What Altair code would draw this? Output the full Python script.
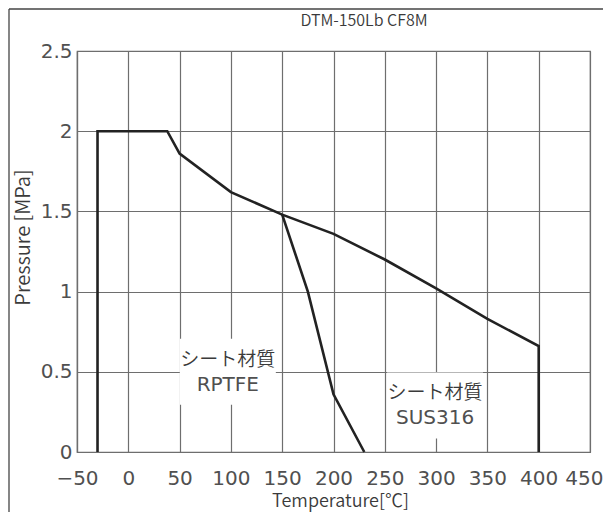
import altair as alt
import pandas as pd

# ---- data ----
sus_temp = [-30, -30, 38, 50, 100, 150, 200, 250, 300, 350, 400, 400]
sus_press = [0, 2.0, 2.0, 1.86, 1.62, 1.48, 1.36, 1.20, 1.02, 0.83, 0.66, 0]

ptfe_temp = [150, 175, 200, 230]
ptfe_press = [1.48, 1.0, 0.36, 0]

label_line1 = ["シート材質", "シート材質"]
label_line2 = ["RPTFE", "SUS316"]
label_temp = [97, 299]
label_press = [0.5, 0.29]

x_ticks = [-50, 0, 50, 100, 150, 200, 250, 300, 350, 400, 450]
y_ticks = [0, 0.5, 1, 1.5, 2, 2.5]

title_text = "DTM-150Lb CF8M"
x_title = "Temperature[℃]"
y_title = "Pressure [MPa]"

JP = "Noto Sans CJK JP"
LAT = "DejaVu Sans"
TXT = "#3a3a3a"
LAT_TXT = "#505050"
GRID = "#6e6e6e"
JP_WEIGHT = alt.ExprRef("350")

rows = []
for i, (t, p) in enumerate(zip(sus_temp, sus_press)):
    rows.append({"series": "SUS316", "order": i, "temp": t, "press": p})
for i, (t, p) in enumerate(zip(ptfe_temp, ptfe_press)):
    rows.append({"series": "RPTFE", "order": i, "temp": t, "press": p})
lines_df = pd.DataFrame(rows)
labels_df = pd.DataFrame({"l1": label_line1, "l2": label_line2,
                          "temp": label_temp, "press": label_press})

x_scale = alt.Scale(domain=[-50, 450], nice=False, zero=False)
y_scale = alt.Scale(domain=[0, 2.5], nice=False)

last_x = x_ticks[-1]
x_axis = alt.Axis(
    values=x_ticks, format="~f", grid=True, ticks=False,
    labelPadding=16, labelFlush=False,
    labelAlign=alt.ExprRef(f"datum.value == {last_x} ? 'right' : 'center'"),
    labelOffset=alt.ExprRef(f"datum.value == {last_x} ? 13 : 0"),
    title=x_title, titleX=263, titleY=49,
    titleBaseline="middle", titleAlign="center", titleFontSize=18)
y_axis = alt.Axis(values=y_ticks, format="~f", grid=True, ticks=False,
                  labelPadding=5, labelFlush=False, title=y_title, titleX=-54, titleY=186,
                  titleBaseline="middle", titleAlign="center", titleAngle=270,
                  titleFontSize=20)

base_lines = alt.Chart(lines_df).mark_line(color="#222222", strokeWidth=2.6, strokeJoin="miter").encode(
    x=alt.X("temp:Q", scale=x_scale, axis=x_axis),
    y=alt.Y("press:Q", scale=y_scale, axis=y_axis),
    detail="series:N",
    order="order:Q",
)

boxes = alt.Chart(labels_df).mark_rect(fill="white", width=96, height=66).encode(
    x=alt.X("temp:Q", scale=x_scale),
    y=alt.Y("press:Q", scale=y_scale),
)

text1 = alt.Chart(labels_df).mark_text(
    font=JP, fontSize=19, fontWeight=JP_WEIGHT, color=TXT, align="center", baseline="middle", dy=-12
).encode(
    x=alt.X("temp:Q", scale=x_scale),
    y=alt.Y("press:Q", scale=y_scale),
    text="l1:N",
)
text2 = alt.Chart(labels_df).mark_text(
    font=LAT, fontSize=20, fontWeight="normal", color=LAT_TXT, align="center", baseline="middle", dy=13
).encode(
    x=alt.X("temp:Q", scale=x_scale),
    y=alt.Y("press:Q", scale=y_scale),
    text="l2:N",
)

title_df = pd.DataFrame({"t": [title_text]})
title_mark = alt.Chart(title_df).mark_text(
    font=JP, fontSize=16, fontWeight=JP_WEIGHT, color=TXT, align="center", baseline="middle"
).encode(x=alt.value(287), y=alt.value(-30), text="t:N")

frame_top = alt.Chart(title_df).mark_rule(color="#444444", strokeWidth=1.3).encode(
    x=alt.value(-68), x2=alt.value(600), y=alt.value(-42))
frame_left = alt.Chart(title_df).mark_rule(color="#444444", strokeWidth=1.3).encode(
    x=alt.value(-68), y=alt.value(-42), y2=alt.value(600))

chart = alt.layer(boxes, base_lines, text1, text2, title_mark, frame_top, frame_left).properties(
    width=513, height=401,
    autosize=alt.AutoSizeParams(type="none"),
    padding={"left": 69, "top": 43, "right": 13, "bottom": 60},
).configure_view(stroke=GRID, strokeWidth=1.2).configure_axis(
    labelFont=LAT, titleFont=JP, labelFontSize=20, labelFontWeight="normal",
    titleFontWeight=JP_WEIGHT,
    labelColor=LAT_TXT, titleColor=TXT, gridColor=GRID, gridOpacity=1, gridWidth=1.2,
    domainColor=GRID, domainWidth=1.2, labelOverlap=False,
)

chart.save("out.html", embed_options={"renderer": "svg", "actions": False})
